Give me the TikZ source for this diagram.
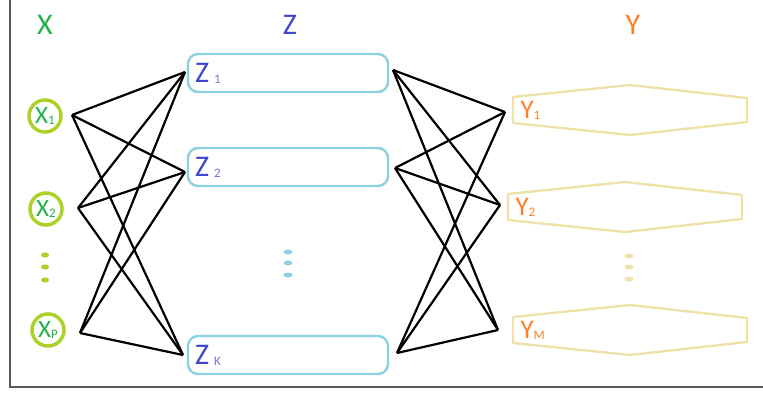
\documentclass[tikz,border=0pt]{standalone}
\usepackage{fontspec}
\setmainfont{Carlito}
\usepackage{xcolor}
\usetikzlibrary{positioning}

\definecolor{xgreen}{RGB}{34,177,76}
\definecolor{xlime}{RGB}{172,210,42}
\definecolor{zblue}{RGB}{63,72,204}
\definecolor{zsubblue}{RGB}{120,120,210}
\definecolor{zbox}{RGB}{140,208,228}
\definecolor{yorange}{RGB}{255,127,39}
\definecolor{yboxcol}{RGB}{239,226,170}
\definecolor{framegray}{RGB}{90,90,90}

\newcommand{\bigletter}{\fontsize{30}{32}\selectfont}
\newcommand{\lowsub}[1]{\raisebox{-1pt}{\fontsize{13}{13}\selectfont #1}}

\tikzset{
  head/.style={font=\bigletter},
  xnode/.style={circle,draw=xlime,line width=3.5pt,minimum size=32pt,inner sep=0pt,
    text=xgreen,font=\fontsize{25}{27}\selectfont},
  zboxnode/.style={draw=zbox,line width=2.4pt,rounded corners=10pt,minimum width=200pt,
    minimum height=38pt,text width=186pt,align=left,inner xsep=7pt,text=zblue,font=\bigletter},
  link/.style={black,line width=2.2pt,line join=round}
}

\begin{document}
\begin{tikzpicture}[x=1pt,y=-1pt]
  \useasboundingbox (0,0) rectangle (763,394);
  \draw[framegray,line width=1.5pt] (10,0) -- (10,387) -- (763,387);

  % column titles
  \node[head,text=xgreen]  (xt) at (45,25)  {X};
  \node[head,text=zblue]   (zt) at (290,25) {Z};
  \node[head,text=yorange] (yt) at (633,25) {Y};

  % inputs
  \node[xnode] (x1) at (45,116) {X\lowsub{1}};
  \node[xnode] (x2) at (46,209) {X\lowsub{2}};
  \node[xnode] (xp) at (48,330) {X\lowsub{P}};
  \foreach \yy in {255,267,280}
    \fill[xlime] (45,\yy) ellipse (4pt and 2.6pt);

  % hidden layer
  \node[zboxnode] (z1) at (288,73)  {Z\,{\color{zsubblue}\lowsub{1}}};
  \node[zboxnode] (z2) at (288,167) {Z\,{\color{zsubblue}\lowsub{2}}};
  \node[zboxnode] (zk) at (288,355) {Z\,{\color{zsubblue}\lowsub{K}}};
  \foreach \yy in {252,263,275}
    \fill[zbox] (288,\yy) ellipse (4.5pt and 2.4pt);

  % outputs
  \foreach \n/\cx/\cy/\s in {1/630/110/1, 2/625/207/2, m/630/330/M} {
    \draw[yboxcol,line width=2.4pt,line join=round]
      (\cx-117,\cy-13) -- (\cx,\cy-25) -- (\cx+117,\cy-12) -- (\cx+117,\cy+12)
      -- (\cx,\cy+25) -- (\cx-117,\cy+13) -- cycle;
    \node[text=yorange,font=\fontsize{27}{29}\selectfont,anchor=west] (y\n) at (\cx-113,\cy)
      {Y\lowsub{\s}};
  }
  \foreach \yy in {256,267,279}
    \fill[yboxcol] (629,\yy) ellipse (4.5pt and 2.4pt);

  % ends of the links
  \coordinate (x1p) at (72,115);
  \coordinate (x2p) at (78,208);
  \coordinate (xpp) at (80,333);
  \coordinate (z1l) at (185,72);
  \coordinate (z2l) at (185,172);
  \coordinate (zkl) at (183,355);
  \coordinate (z1r) at (393,70);
  \coordinate (z2r) at (395,168);
  \coordinate (zkr) at (397,353);
  \coordinate (y1p) at (505,112);
  \coordinate (y2p) at (500,205);
  \coordinate (ymp) at (498,330);

  \foreach \a in {x1p,x2p,xpp}
    \foreach \b in {z1l,z2l,zkl}
      \path[link] (\a) edge (\b);
  \foreach \a in {z1r,z2r,zkr}
    \foreach \b in {y1p,y2p,ymp}
      \path[link] (\a) edge (\b);
\end{tikzpicture}
\end{document}
